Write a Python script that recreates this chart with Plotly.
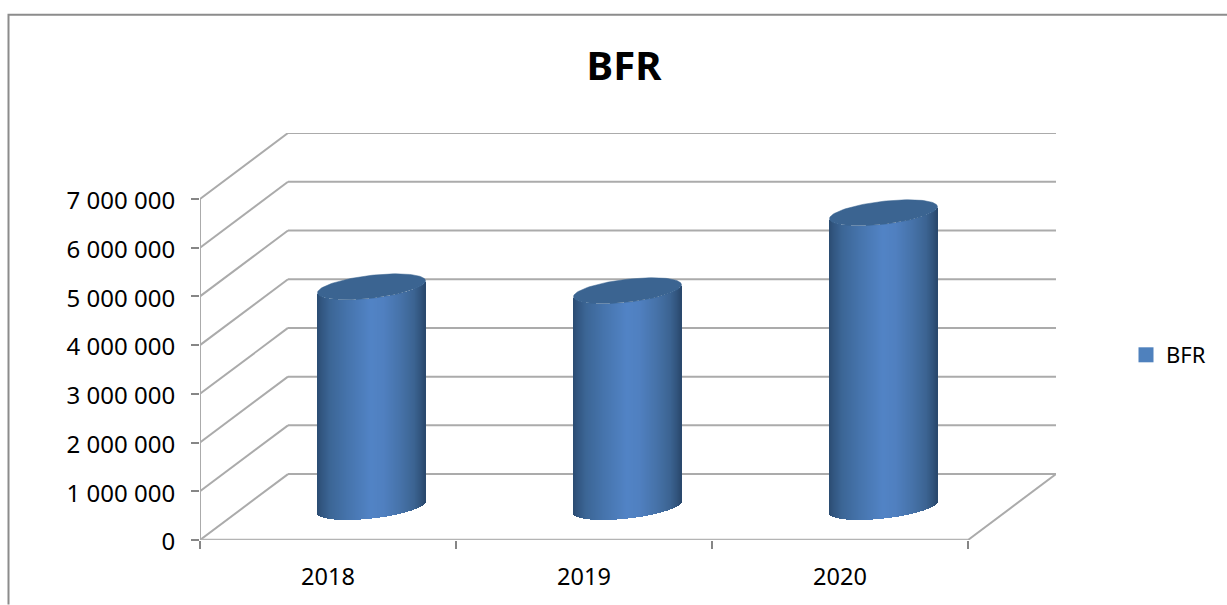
import numpy as np
import plotly.graph_objects as go

# ---- data ----
years = ["2018", "2019", "2020"]
bfr_values = [4520000, 4440000, 6040000]
y_ticks = [0, 1000000, 2000000, 3000000, 4000000, 5000000, 6000000, 7000000]
y_tick_labels = ["0", "1 000 000", "2 000 000", "3 000 000", "4 000 000",
                 "5 000 000", "6 000 000", "7 000 000"]

# ---- pixel geometry of the oblique projection ----
W, H = 1227, 605
X0, Y0 = 200, 540.5        # origin of the front plane
CAT_PX = 256.0             # one category
MIL_PX = 48.8              # one million
DX_PX, DY_PX = 88.0, 66.0  # depth of the box
PLOT_R, PLOT_T = X0 + 3 * CAT_PX + DX_PX, Y0 - 7 * MIL_PX - DY_PX
PLOT_W, PLOT_H = PLOT_R - X0, Y0 - PLOT_T

x_range = [-0.5, -0.5 + PLOT_W / CAT_PX]
y_range = [0, PLOT_H / MIL_PX * 1e6]
depth_x = DX_PX / CAT_PX
depth_y = DY_PX / MIL_PX * 1e6

RAD_PX, TILT_PX, MINOR_PX = 54.0, 6.0, 11.5
shade_pos = [0.0, 0.04, 0.12, 0.28, 0.50, 0.62, 0.78, 0.90, 0.97, 1.0]
shade_rgb = [(43, 76, 114), (50, 86, 128), (60, 102, 150), (70, 116, 172), (82, 132, 198),
             (80, 128, 192), (70, 114, 168), (60, 100, 146), (48, 82, 122), (42, 72, 108)]

GRID = "#ABABAB"
TICK = "#868686"
TEXT = "#000000"
FONT = "Noto Sans"

fig = go.Figure()

# cylinders: a fan of narrow bars following the lower arcs, topped by an ellipse
offsets_px = np.arange(-RAD_PX + 0.5, RAD_PX, 1.0)
for year_i, value in enumerate(bfr_values):
    u = offsets_px / RAD_PX
    arc = TILT_PX * u - MINOR_PX * np.sqrt(1 - u ** 2)  # px, upward
    cx = year_i + depth_x / 2 - 0.5 / CAT_PX
    floor = depth_y / 2
    frac = (u + 1) / 2
    cols = ["rgb(%d,%d,%d)" % tuple(np.interp(f, shade_pos, [c[k] for c in shade_rgb]) for k in range(3))
            for f in frac]
    fig.add_trace(go.Bar(
        x=cx + offsets_px / CAT_PX,
        base=floor + arc / MIL_PX * 1e6,
        y=np.full(offsets_px.shape, value),
        width=1.4 / CAT_PX,
        marker=dict(color=cols, line=dict(width=0)),
        showlegend=False, hoverinfo="skip",
    ))
    t = np.linspace(0, 2 * np.pi, 121)
    ex = RAD_PX * np.cos(t)
    ey = TILT_PX * np.cos(t) + MINOR_PX * np.sin(t)
    fig.add_trace(go.Scatter(
        x=cx + ex / CAT_PX,
        y=floor + value + ey / MIL_PX * 1e6,
        mode="lines", fill="toself", fillcolor="#3B6491",
        line=dict(width=0.5, color="#3B6491"),
        showlegend=False, hoverinfo="skip",
    ))

# legend entry
fig.add_trace(go.Scatter(
    x=[None], y=[None], mode="markers", name="BFR",
    marker=dict(symbol="square", size=15, color="#4F81BD"),
))

# back-wall grid lines run behind the cylinders, so they are shapes below the traces
x_left, x_right = -0.5, 2.5
shapes = []
def seg(x1, y1, x2, y2, color=GRID, width=2):
    shapes.append(dict(type="line", xref="x", yref="y", x0=x1, y0=y1, x1=x2, y1=y2,
                       layer="below", line=dict(color=color, width=width)))
for tick in y_ticks[:-1]:
    seg(x_left, tick, x_left + depth_x, tick + depth_y)
    seg(x_left + depth_x, tick + depth_y, x_right + depth_x, tick + depth_y)
seg(x_right, 0, x_right + depth_x, depth_y)

# lines on the edge of the plot area must not be clipped, so they are traces
def edge(xs, ys, color=GRID, width=2):
    fig.add_trace(go.Scatter(x=xs, y=ys, mode="lines", cliponaxis=False,
                             line=dict(color=color, width=width),
                             showlegend=False, hoverinfo="skip"))
top = y_ticks[-1]
edge([x_left, x_left + depth_x, x_right + depth_x], [top, top + depth_y, top + depth_y])
edge([x_left, x_right], [0, 0], color="#B4B4B4", width=2.5)
edge([x_left, x_left], [0, top])

# chart frame: left and top edges of the chart area, running off the page
fx = (8.5 - X0) / PLOT_W
fy_top = (Y0 - 14.5) / PLOT_H
fy_bot = (Y0 - H) / PLOT_H
fx_right = (W - X0) / PLOT_W
shapes.append(dict(type="path", xref="paper", yref="paper",
                   path=f"M {fx} {fy_bot} L {fx} {fy_top} L {fx_right} {fy_top}",
                   line=dict(color="#8C8C8C", width=2)))

fig.update_layout(
    width=W, height=H,
    margin=dict(l=X0, r=W - PLOT_R, t=PLOT_T, b=H - Y0),
    paper_bgcolor="white", plot_bgcolor="white",
    barmode="overlay", bargap=0,
    shapes=shapes,
    title=dict(text="<b>BFR</b>", x=624 / W, xanchor="center", y=1 - 66 / H, yanchor="middle",
               font=dict(family=FONT, size=40, color=TEXT)),
    legend=dict(xref="container", yref="container", x=1126 / W, y=1 - 355 / H,
                xanchor="left", yanchor="middle", bgcolor="rgba(0,0,0,0)",
                font=dict(family=FONT, size=22, color=TEXT)),
    xaxis=dict(range=x_range, tickmode="array", tickvals=[0, 1, 2], ticktext=years,
               showgrid=False, zeroline=False, showline=False, ticks="",
               ticklabelstandoff=20,
               tickfont=dict(family=FONT, size=23.5, color=TEXT),
               minor=dict(tickmode="array", tickvals=[-0.5, 0.5, 1.5, 2.5], ticks="outside",
                          ticklen=8, tickwidth=1.5, tickcolor=TICK, showgrid=False)),
    yaxis=dict(range=y_range, tickmode="array", tickvals=y_ticks, ticktext=y_tick_labels,
               showgrid=False, zeroline=False, showline=False, ticks="outside", ticklen=8,
               tickwidth=1.5, tickcolor=TICK, ticklabelstandoff=11, ticklabelshift=2,
               tickfont=dict(family=FONT, size=24, color=TEXT)),
)
fig.write_html("out.html", config={"displayModeBar": False},
               post_script="document.body.style.margin='0';")
